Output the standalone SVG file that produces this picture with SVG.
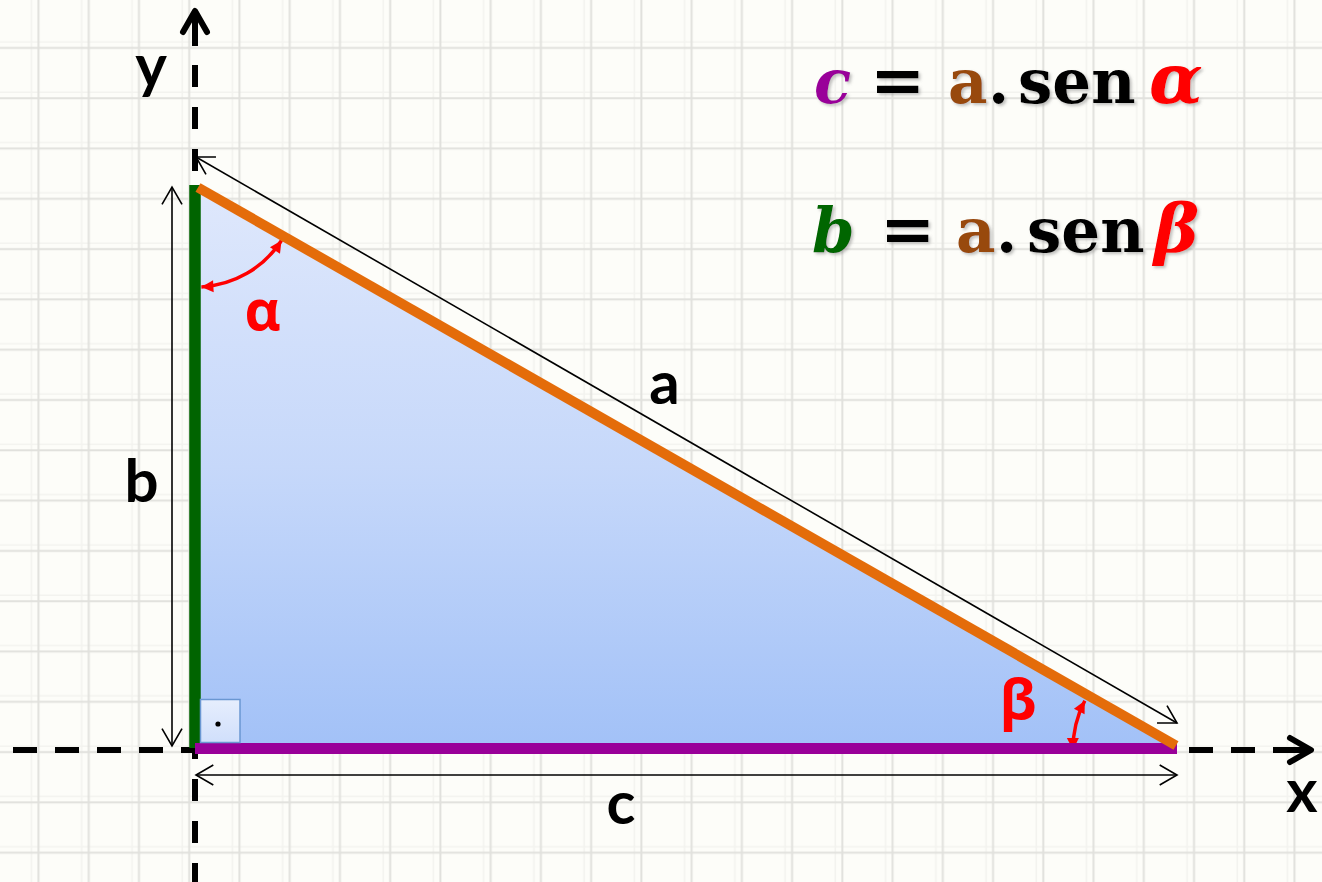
<svg xmlns="http://www.w3.org/2000/svg" width="1322" height="882" viewBox="0 0 1322 882">
  <style>
    .lbl { font-family: Lato, "Open Sans", "DejaVu Sans", sans-serif; font-weight: bold; font-size: 60px; fill: #000; text-anchor: middle; }
    .greek { font-family: "Open Sans", "DejaVu Sans", sans-serif; font-weight: bold; font-size: 56px; fill: #ff0000; text-anchor: middle; }
    .f { font-family: "DejaVu Serif", "Liberation Serif", serif; font-weight: bold; font-size: 61px; }
    .it { font-style: italic; }
    .eq { font-size: 66px; }
    .dim { stroke: #000; stroke-width: 1.6; fill: none; marker-start: url(#open); marker-end: url(#open); }
    .arc { stroke: #ff0000; stroke-width: 3.5; fill: none; marker-start: url(#red); marker-end: url(#red); }
    .axis { stroke: #000; stroke-width: 6; fill: none; }
    .head { stroke: #000; stroke-width: 6; fill: none; stroke-linecap: round; stroke-linejoin: round; }
  </style>
  <defs>
    <pattern id="grid" patternUnits="userSpaceOnUse" x="13.5" y="23" width="50.24" height="50.3">
      <rect width="50.24" height="50.3" fill="#fdfdf9"/>
      <line x1="18" y1="0" x2="18" y2="50.3" stroke="#f3f3ef" stroke-width="1.5"/>
      <line x1="0" y1="19" x2="50.24" y2="19" stroke="#f3f3ef" stroke-width="1.5"/>
      <line x1="25" y1="0" x2="25" y2="50.3" stroke="#e1e1dd" stroke-width="2"/>
      <line x1="0" y1="25" x2="50.24" y2="25" stroke="#e1e1dd" stroke-width="2"/>
    </pattern>
    <linearGradient id="triFill" x1="0" y1="0" x2="0" y2="1">
      <stop offset="0" stop-color="#dfe8fc"/>
      <stop offset="0.5" stop-color="#c6d8fa"/>
      <stop offset="1" stop-color="#a2c1f7"/>
    </linearGradient>
    <linearGradient id="boxFill" x1="0" y1="0" x2="0" y2="1">
      <stop offset="0" stop-color="#e6eefd"/>
      <stop offset="1" stop-color="#d0dffb"/>
    </linearGradient>
    <marker id="open" markerUnits="userSpaceOnUse" viewBox="-20 -12 22 24" refX="0" refY="0" markerWidth="22" markerHeight="24" orient="auto-start-reverse">
      <path d="M-17.3,-10 L0,0 L-17.3,10" stroke="#000" stroke-width="1.6" fill="none"/>
    </marker>
    <marker id="red" markerUnits="userSpaceOnUse" viewBox="-13 -7 14 14" refX="0" refY="0" markerWidth="14" markerHeight="14" orient="auto-start-reverse">
      <path d="M-12,-6 L0,0 L-12,6 Z" fill="#ff0000"/>
    </marker>
    <filter id="shadow" x="-10%" y="-10%" width="130%" height="140%">
      <feDropShadow dx="2" dy="2" stdDeviation="1.5" flood-color="#777" flood-opacity="0.45"/>
    </filter>
  </defs>

  <rect id="background" x="0" y="0" width="1322" height="882" fill="url(#grid)"/>

  <g id="triangle">
    <polygon points="197,185 197,749 1177,749" fill="url(#triFill)"/>
  </g>

  <g id="axes">
    <line class="axis" x1="13" y1="750" x2="1272" y2="750" stroke-dasharray="24 18"/>
    <line class="axis" x1="1273" y1="750" x2="1310" y2="750"/>
    <polyline class="head" points="1290,738 1311,750 1290,762"/>
    <line class="axis" x1="195" y1="882" x2="195" y2="65" stroke-dasharray="22 20" stroke-dashoffset="3"/>
    <line class="axis" x1="195" y1="46" x2="195" y2="12"/>
    <polyline class="head" points="183,32 195,11 207,32"/>
  </g>

  <g id="connectors">
    <path id="alpha-arc" class="arc" d="M201.4,286.9 A102,102 0 0 0 281.5,240.5"/>
    <path id="beta-arc" class="arc" d="M1073,750 A104,104 0 0 1 1084.8,700.8"/>
    <line id="dim-a" class="dim" x1="196" y1="157" x2="1177" y2="723"/>
    <line id="dim-b" class="dim" x1="172" y1="187" x2="172" y2="746"/>
    <line id="dim-c" class="dim" x1="196" y1="775" x2="1177" y2="775"/>
  </g>

  <g id="sides">
    <line id="side-b" x1="195" y1="185" x2="195" y2="748" stroke="#006400" stroke-width="11.5"/>
    <line id="side-c" x1="195" y1="748.5" x2="1177" y2="748.5" stroke="#990099" stroke-width="11"/>
    <line id="side-a" x1="198" y1="187.5" x2="1176" y2="745.5" stroke="#e46c0a" stroke-width="10"/>
  </g>

  <g id="right-angle">
    <rect x="200.5" y="699.5" width="39.5" height="43" fill="url(#boxFill)" stroke="#6a97d2" stroke-width="1.5"/>
    <circle cx="218" cy="724" r="2.6" fill="#000"/>
  </g>

  <g id="labels">
    <text class="lbl" x="151" y="87">y</text>
    <text class="lbl" x="1302" y="812">x</text>
    <text class="lbl" x="141.5" y="502">b</text>
    <text class="lbl" x="664.5" y="404">a</text>
    <text class="lbl" x="621" y="824">c</text>
    <text class="greek" x="262.5" y="330">α</text>
    <text class="greek" x="1018" y="719">β</text>
  </g>

  <g id="formula-c" filter="url(#shadow)">
    <text class="f" y="103"><tspan class="it" x="814" fill="#990099">c</tspan><tspan class="eq" x="870" fill="#000">=</tspan><tspan x="948" fill="#984807">a</tspan><tspan x="988" fill="#000">.</tspan><tspan x="1018" fill="#000">sen</tspan><tspan class="it" x="1149" fill="#ff0000" font-size="70">α</tspan></text>
  </g>

  <g id="formula-b" filter="url(#shadow)">
    <text class="f" y="252"><tspan class="it" x="812" fill="#006600">b</tspan><tspan class="eq" x="880" fill="#000">=</tspan><tspan x="956" fill="#984807">a</tspan><tspan x="996" fill="#000">.</tspan><tspan x="1027" fill="#000">sen</tspan><tspan class="it" x="1154" fill="#ff0000" font-size="68">β</tspan></text>
  </g>
</svg>
